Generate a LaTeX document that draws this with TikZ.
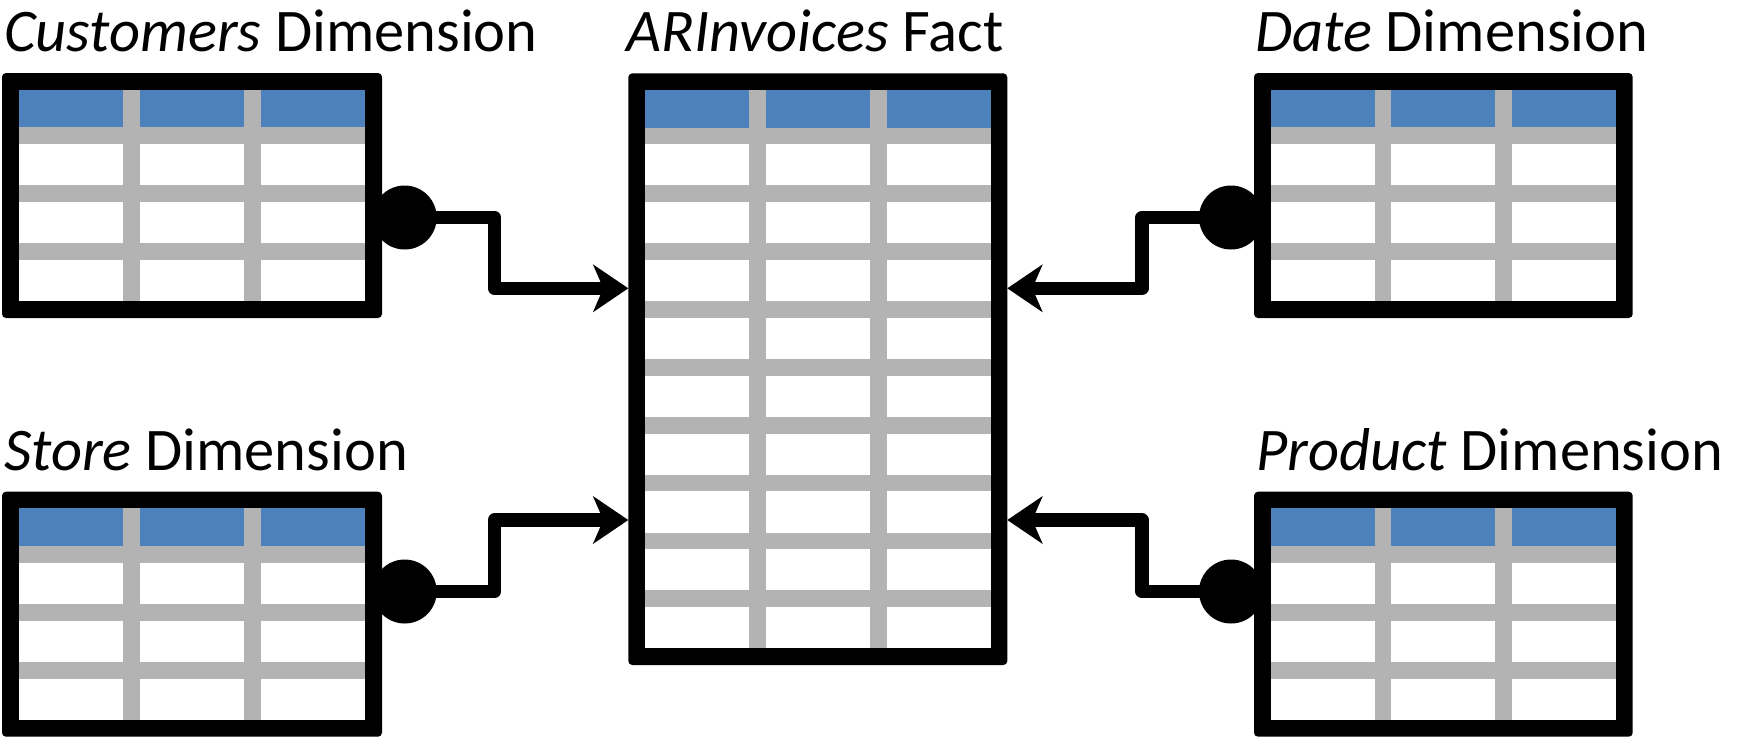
\documentclass[tikz,border=0pt]{standalone}
\usepackage{fontspec}
\setmainfont{Carlito}
\usetikzlibrary{arrows.meta}
\definecolor{hdrblue}{RGB}{76,129,187}
\definecolor{gridgray}{RGB}{179,179,179}
\tikzset{
  tablebox/.style={rectangle, fill=black, rounded corners=4pt, inner sep=0pt, outer sep=0pt, anchor=north west},
  dotnode/.style={circle, fill=black, minimum size=64pt, inner sep=0pt, outer sep=0pt},
  conn/.style={draw=black, line width=13.3pt, line join=round,
    -{Stealth[length=35pt, width=47pt, inset=10pt]}},
  ttl/.style={anchor=base west, inner sep=0pt, font=\fontsize{60.5}{70}\selectfont},
}
% #1 name, #2 left, #3 top, #4 width, #5 height, #6 body rows
\newcommand{\dbtable}[6]{%
  \node[tablebox, minimum width=#4pt, minimum height=#5pt] (#1) at (#2,#3) {};
  \pgfmathsetmacro{\tIL}{#2+16.7}%
  \pgfmathsetmacro{\tIR}{#2+#4-16.7}%
  \pgfmathsetmacro{\tIT}{#3+16.7}%
  \pgfmathsetmacro{\tIB}{#3+#5-16.7}%
  \pgfmathsetmacro{\tRH}{(\tIB-\tIT-37.5-#6*16.7)/#6}%
  \pgfmathsetmacro{\tCW}{(\tIR-\tIL-2*16.7)/3}%
  \fill[white] (\tIL,\tIT) rectangle (\tIR,\tIB);
  \fill[hdrblue] (\tIL,\tIT) rectangle (\tIR,{\tIT+37.5});
  \foreach \k in {1,...,#6}{%
    \pgfmathsetmacro{\tY}{\tIT+37.5+(\k-1)*(16.7+\tRH)}%
    \fill[gridgray] (\tIL,\tY) rectangle (\tIR,{\tY+16.7});
  }
  \fill[gridgray] ({\tIL+\tCW},\tIT) rectangle ({\tIL+\tCW+16.7},\tIB);
  \fill[gridgray] ({\tIL+2*\tCW+16.7},\tIT) rectangle ({\tIL+2*\tCW+33.4},\tIB);
}
\begin{document}
\begin{tikzpicture}[x=1pt,y=-1pt]
\useasboundingbox[fill=white] (0,0) rectangle (1739,737);

% tables
\dbtable{cust}{2}{73}{380}{245}{3}
\dbtable{store}{2}{491.7}{380}{245}{3}
\dbtable{fact}{628.3}{73.3}{379}{591.7}{9}
\dbtable{date}{1254}{73}{378.7}{245}{3}
\dbtable{prod}{1254}{491.7}{378.7}{245}{3}

% titles
\node[ttl] (tcust) at (4,51) {\textit{Customers} Dimension};
\node[ttl, anchor=base] (tfact) at (815,51) {\textit{ARInvoices} Fact};
\node[ttl] (tdate) at (1255,51) {\textit{Date} Dimension};
\node[ttl] (tstore) at (4,470) {\textit{Store} Dimension};
\node[ttl] (tprod) at (1256,470) {\textit{Product} Dimension};

% connector end levels
\coordinate (a1) at (0,288.3);
\coordinate (a2) at (0,520);

% dots
\node[dotnode] (d1) at (404.7,217.5) {};
\node[dotnode] (d2) at (404.7,591.5) {};
\node[dotnode] (d3) at (1231,217.5) {};
\node[dotnode] (d4) at (1231,591.5) {};

% connectors
\draw[conn] (d1.center) -- ++(89.8,0) |- (fact.west |- a1);
\draw[conn] (d2.center) -- ++(89.8,0) |- (fact.west |- a2);
\draw[conn] (d3.center) -- ++(-89,0) |- (fact.east |- a1);
\draw[conn] (d4.center) -- ++(-89,0) |- (fact.east |- a2);
\end{tikzpicture}
\end{document}
